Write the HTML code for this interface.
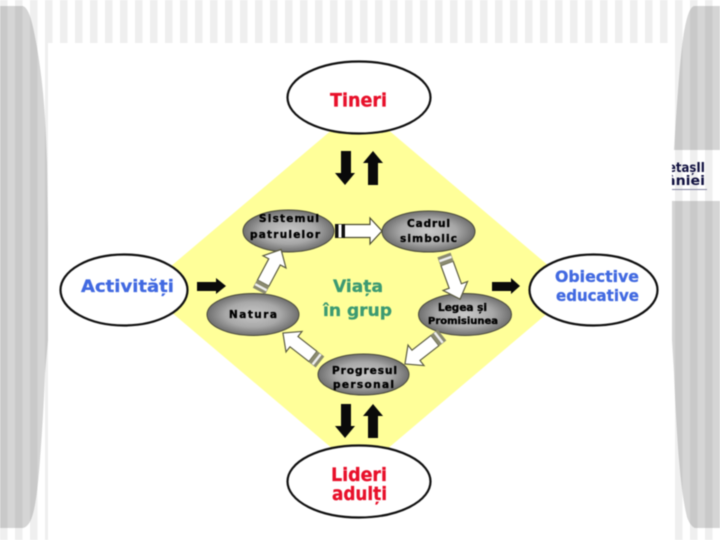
<!DOCTYPE html>
<html lang="ro">
<head>
<meta charset="utf-8">
<title>Viața în grup</title>
<style>
html,body{margin:0;padding:0;background:#fff;width:720px;height:540px;overflow:hidden}
svg{display:block;filter:blur(.4px)}
text{font-family:"DejaVu Sans","Liberation Sans",sans-serif;font-weight:bold;text-anchor:start}
.n{font-size:10.5px;fill:#000;stroke:#000;stroke-width:.35}
.r{font-size:19px;fill:#e8102a;stroke:#e8102a;stroke-width:.3}
.b{font-size:17px;fill:#4169e1;stroke:#4169e1;stroke-width:.3}
.g{font-size:17px;fill:#3c9a72;stroke:#3c9a72;stroke-width:.3}
</style>
</head>
<body>
<svg width="720" height="540" viewBox="0 0 720 540" xmlns="http://www.w3.org/2000/svg">
<defs>
<pattern id="st" width="15" height="540" patternUnits="userSpaceOnUse"><rect width="7.5" height="540" fill="#efefef"/></pattern>
<pattern id="gb" width="15" height="540" patternUnits="userSpaceOnUse"><rect width="15" height="540" fill="#d5d5d5"/><rect width="7.5" height="540" fill="#c9c9c9"/></pattern>
<radialGradient id="og" cx="50%" cy="50%" r="50%"><stop offset="0" stop-color="#c8c8c8"/><stop offset=".6" stop-color="#a8a8a8"/><stop offset="1" stop-color="#6f6f6f"/></radialGradient>
<g id="wa">
<path d="M9 -6.5H35V-13L47 0L35 13V6.5H9Z" fill="#fff" stroke="#4a4a30" stroke-width="1.2"/>
<rect x="0" y="-7" width="10" height="14" fill="#111"/>
<rect x="3.5" y="-6.5" width="3" height="13" fill="#fff"/>
</g>
<g id="wb">
<path d="M9 -6.5H33V-13L47 0L33 13V6.5H9Z" fill="#fff" stroke="#5a5a40" stroke-width="1.2"/>
<rect x="0" y="-7" width="9" height="14" fill="#8a8a70"/>
<rect x="3" y="-6.5" width="2.5" height="13" fill="#eee"/>
</g>
</defs>

<rect width="720" height="43" fill="url(#st)"/>
<rect width="48" height="540" fill="url(#st)"/>
<rect x="675" width="45" height="540" fill="url(#st)"/>

<path d="M0 6H23C28 8 31 18 33 27C37 45 40 65 42 83C45 110 46 135 47 163L48 230V340L45 373C44 400 42 435 40 460C38 485 36 505 32 517C30 523 27 527 23 528H0Z" fill="url(#gb)"/>
<path d="M720 6H694C689 8 687 18 685 27C681 45 678 90 675 133L674 150H720Z" fill="url(#gb)"/>
<path d="M720 201H672V340L674 373C675 400 677 435 679 460C681 485 684 505 687 517C689 523 692 527 695 528H720Z" fill="url(#gb)"/>

<text x="668" y="172" textLength="37" lengthAdjust="spacingAndGlyphs" style="font-size:13px;fill:#10103f">etașII</text>
<text x="666" y="185" textLength="39" lengthAdjust="spacingAndGlyphs" style="font-size:13px;fill:#10103f">âniei</text>
<rect x="672" y="189" width="35" height="1" fill="#8a8aa5"/>
<rect x="660" y="150" width="12" height="51" fill="#fff"/>

<polygon points="360,106 576,289 360,472 144,289" fill="#ffff99"/>

<g fill="#fff" stroke="#111" stroke-width="2.2">
<ellipse cx="359" cy="97.5" rx="71.5" ry="36"/>
<ellipse cx="359" cy="481.5" rx="71.5" ry="36"/>
<ellipse cx="124" cy="290" rx="63.5" ry="35.5"/>
<ellipse cx="593.5" cy="290" rx="64" ry="35.5"/>
</g>

<g fill="url(#og)" stroke="#4a4a3a" stroke-width="1">
<ellipse cx="288.5" cy="231" rx="45.5" ry="21"/>
<ellipse cx="428.5" cy="231.5" rx="46.5" ry="20.5"/>
<ellipse cx="253" cy="314.5" rx="46" ry="21"/>
<ellipse cx="465" cy="314.5" rx="46.5" ry="21"/>
<ellipse cx="363.5" cy="374.5" rx="45.5" ry="20.5"/>
</g>

<g fill="#0a0a0a">
<path d="M341 151H351V173H355L345 185L335 173H341Z"/>
<path d="M368 185H378V163H383L373 151L363 163H368Z"/>
<path d="M341 404H351V426H355L345 438L335 426H341Z"/>
<path d="M368 438H378V416H383L373 404L363 416H368Z"/>
<path d="M197 282H216V278L226 286L216 294V291H197Z"/>
<path d="M492 282H511V278L520 286L511 294V291H492Z"/>
</g>

<use href="#wa" transform="translate(335 231)"/>
<use href="#wb" transform="translate(259 291) rotate(-62)"/>
<use href="#wb" transform="translate(444 255) rotate(70)"/>
<use href="#wb" transform="translate(442 335) rotate(142)"/>
<use href="#wb" transform="translate(320 362) rotate(-142)"/>

<text class="r" x="330" y="106.5" textLength="57" lengthAdjust="spacingAndGlyphs">Tineri</text>
<text class="r" x="331" y="481" textLength="56" lengthAdjust="spacingAndGlyphs">Lideri</text>
<text class="r" x="332" y="500" textLength="55" lengthAdjust="spacingAndGlyphs">adulți</text>
<text class="b" x="81" y="292" textLength="93" lengthAdjust="spacingAndGlyphs">Activități</text>
<text class="b" x="555" y="282" textLength="84" lengthAdjust="spacingAndGlyphs" style="font-size:16px">Obiective</text>
<text class="b" x="556" y="301" textLength="83" lengthAdjust="spacingAndGlyphs" style="font-size:16px">educative</text>
<text class="g" x="333" y="292" textLength="50" lengthAdjust="spacingAndGlyphs">Viața</text>
<text class="g" x="323" y="316" textLength="69" lengthAdjust="spacingAndGlyphs">în grup</text>

<text class="n" x="259" y="222" textLength="60" lengthAdjust="spacing">Sistemul</text>
<text class="n" x="250" y="238" textLength="70" lengthAdjust="spacing">patrulelor</text>
<text class="n" x="407" y="227" textLength="43" lengthAdjust="spacing">Cadrul</text>
<text class="n" x="400" y="242" textLength="57" lengthAdjust="spacing">simbolic</text>
<text class="n" x="229" y="318" textLength="48" lengthAdjust="spacing">Natura</text>
<text class="n" x="438" y="311" textLength="49" lengthAdjust="spacing">Legea și</text>
<text class="n" x="428" y="324" textLength="70" lengthAdjust="spacing" style="font-size:10px">Promisiunea</text>
<text class="n" x="332" y="374" textLength="65" lengthAdjust="spacing">Progresul</text>
<text class="n" x="333" y="388" textLength="61" lengthAdjust="spacing">personal</text>
</svg>
</body>
</html>
